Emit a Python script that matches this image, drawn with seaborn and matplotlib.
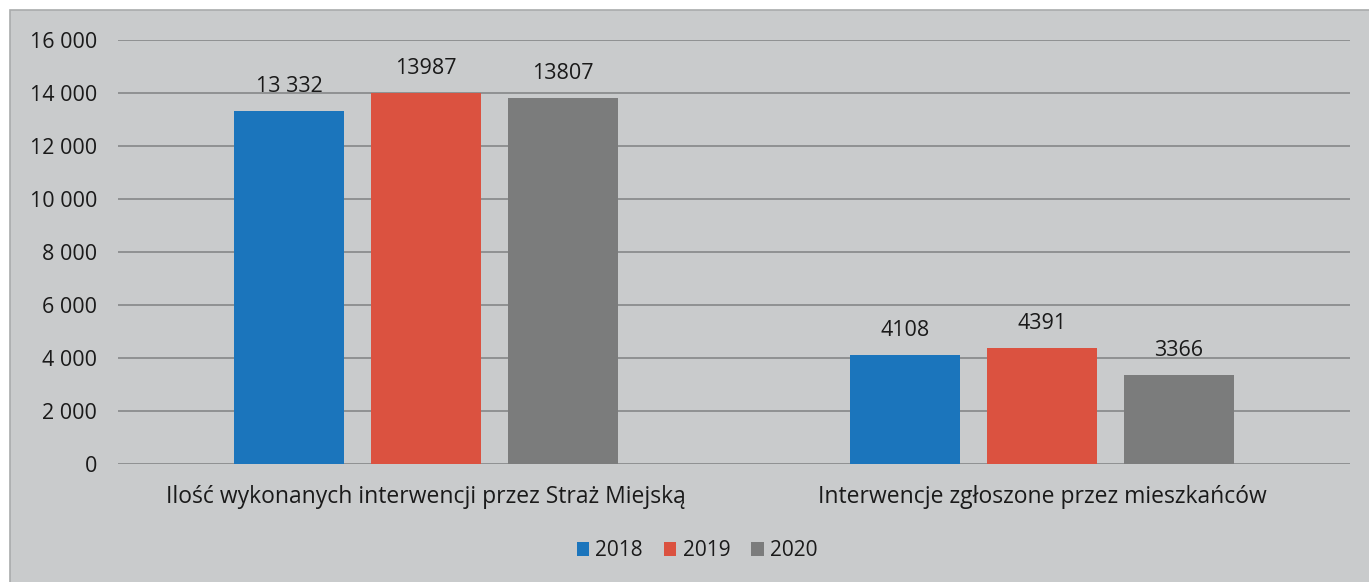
import matplotlib
matplotlib.use("Agg")
import matplotlib.pyplot as plt
from matplotlib.patches import Rectangle
from matplotlib.ticker import FuncFormatter
import pandas as pd
import seaborn as sns

# ------------------------------------------------------------------
# Data
# ------------------------------------------------------------------
categories = [
    "Ilość wykonanych interwencji przez Straż Miejską",
    "Interwencje zgłoszone przez mieszkańców",
]
years = ["2018", "2019", "2020"]
values_2018 = [13332, 4108]
values_2019 = [13987, 4391]
values_2020 = [13807, 3366]
labels_2018 = ["13 332", "4108"]
labels_2019 = ["13987", "4391"]
labels_2020 = ["13807", "3366"]

colours = ["#1b75bc", "#db5240", "#7b7c7c"]
panel_bg = "#c9cbcc"
grid_col = "#8f9192"
text_col = "#1a1a1a"

df = pd.DataFrame({
    "category": categories * 3,
    "year": [y for y in years for _ in categories],
    "value": values_2018 + values_2019 + values_2020,
})

sns.set_theme(style="white")
plt.rcParams["font.family"] = ["Open Sans", "DejaVu Sans"]

fig = plt.figure(figsize=(13.69, 5.82), dpi=100, facecolor="white")
# grey chart area of the scanned page
fig.patches.append(Rectangle(
    (10 / 1369, -0.01), 1.02, 1 - 10 / 582 + 0.01,
    transform=fig.transFigure, facecolor=panel_bg,
    edgecolor="#a9abac", linewidth=1.2, zorder=-10,
))

ax = fig.add_axes([118 / 1369, 1 - 464 / 582, (1350 - 118) / 1369, (464 - 40) / 582])
ax.set_facecolor("none")

sns.barplot(
    data=df, x="category", y="value", hue="year",
    palette=colours, saturation=1, width=0.667, gap=0.2, ax=ax,
    edgecolor="none", legend=True,
)

ax.set_ylim(0, 16000)
ax.set_xlim(-0.5, 1.5)
ax.set_yticks(range(0, 16001, 2000))
ax.yaxis.set_major_formatter(FuncFormatter(lambda v, _: f"{int(v):,}".replace(",", " ")))
ax.grid(axis="y", color=grid_col, linewidth=1.4)
ax.set_axisbelow(True)
for s in ax.spines.values():
    s.set_visible(False)
ax.tick_params(axis="y", length=0, labelsize=15.5, colors=text_col, pad=15)
ax.tick_params(axis="x", length=0, labelsize=16.5, colors=text_col, pad=15)
ax.set_xlabel("")
ax.set_ylabel("")

for cont, labs in zip(ax.containers, [labels_2018, labels_2019, labels_2020]):
    ax.bar_label(cont, labels=labs, padding=10, fontsize=15.5, color=text_col)

ax.legend(
    loc="center", bbox_to_anchor=(0.47, -0.205), ncol=3, frameon=False,
    fontsize=15, handlelength=0.6, handleheight=0.6, handletextpad=0.3,
    columnspacing=1.0, labelcolor=text_col,
)

fig.savefig("out.png", dpi=100, facecolor="white")
plt.close(fig)
